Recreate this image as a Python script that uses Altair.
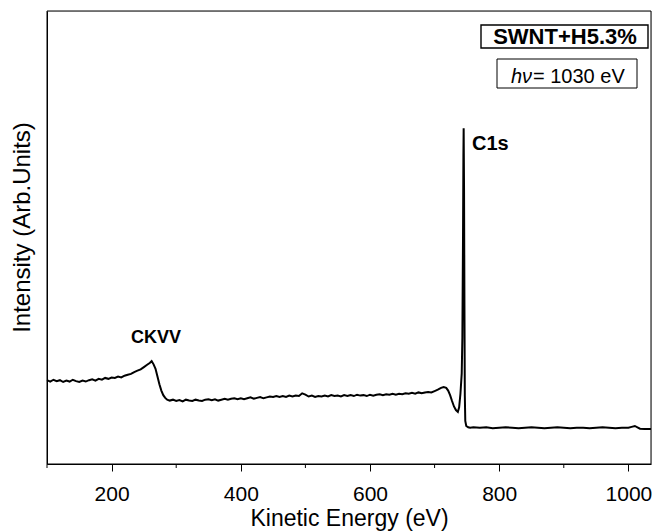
import altair as alt
import pandas as pd

# Kinetic energy (eV) and intensity (arb. units)
energy = [
    100, 105, 110, 115, 120, 125, 130, 135, 140, 145, 150, 155, 160, 165, 170, 175,
    180, 185, 190, 195, 200, 205, 210, 215, 220, 225, 230, 235, 240, 245, 250, 255,
    259, 262, 265, 268, 271, 274, 277, 280, 283, 286, 290,
    295, 300, 305, 310, 315, 320, 325, 330, 335, 340, 345, 350, 355, 360, 365, 370,
    375, 380, 385, 390, 395, 400, 405, 410, 415, 420, 425, 430, 435, 440, 445, 450,
    455, 460, 465, 470, 475, 480, 485, 490, 495, 500, 505, 510, 515, 520, 525, 530,
    535, 540, 545, 550, 555, 560, 565, 570, 575, 580, 585, 590, 595, 600, 605, 610,
    615, 620, 625, 630, 635, 640, 645, 650, 655, 660, 665, 670, 675, 680, 685, 690,
    695, 700, 705, 710, 714, 718, 721, 724, 727, 730, 733, 736,
    738, 740, 742, 743, 744, 744.6, 745, 745.6, 746.2, 746.8, 747.5, 749, 752,
    755, 760, 770, 780, 790, 800, 810, 820, 830, 840, 850, 860, 870, 880, 890, 900,
    910, 920, 930, 940, 950, 960, 970, 980, 990, 1000, 1005, 1010, 1014, 1018, 1025, 1035,
]
intensity = [
    18.5, 18.2, 18.6, 18.3, 18.5, 18.1, 18.4, 18.2, 18.6, 18.3, 18.1, 18.4, 18.2, 18.5, 18.7, 18.4,
    18.8, 18.6, 19.0, 18.8, 19.1, 19.0, 19.3, 19.1, 19.5, 19.7, 19.9, 20.3, 20.6, 20.9, 21.4, 21.9,
    22.3, 22.7, 22.0, 21.0, 19.3, 17.6, 16.2, 15.2, 14.6, 14.2, 14.0,
    14.2, 13.9, 14.1, 13.8, 14.2, 14.0, 13.9, 14.2, 14.0, 13.9, 14.2, 14.3, 14.1, 14.3, 14.0, 14.2,
    14.4, 14.2, 14.4, 14.5, 14.3, 14.5, 14.3, 14.5, 14.7, 14.4, 14.6, 14.8, 14.5, 14.7, 14.9, 14.8,
    15.0, 14.8, 15.0, 14.8, 15.1, 14.9, 15.1, 15.0, 15.6, 15.3, 14.9, 15.1, 14.8, 15.0, 14.9, 15.1,
    14.9, 15.2, 15.0, 15.1, 14.9, 15.2, 15.0, 15.2, 15.0, 15.3, 15.1, 15.2, 15.0, 15.3, 15.1, 15.3,
    15.4, 15.2, 15.4, 15.3, 15.5, 15.3, 15.5, 15.4, 15.6, 15.5, 15.7, 15.5, 15.8, 15.6, 15.8, 15.9,
    15.8, 16.1, 16.4, 16.8, 17.0, 16.8, 16.2, 15.2, 13.9, 12.7, 11.9, 11.5,
    12.5, 15.5, 20.0, 28.0, 50.0, 68.0, 74.1, 60.0, 35.0, 15.0, 9.5, 8.4, 8.1,
    8.0, 8.1, 8.0, 8.1, 7.9, 8.0, 8.1, 8.0, 7.9, 8.0, 8.1, 8.0, 7.9, 8.0, 8.1, 8.0,
    7.9, 8.0, 8.0, 7.9, 8.0, 8.1, 8.0, 7.9, 8.0, 8.0, 8.2, 8.4, 8.1, 7.8, 7.7, 7.7,
]
major_ticks = [200, 400, 600, 800, 1000]
minor_ticks = [100, 300, 500, 700, 900]

FONT = "Liberation Sans"
W, H = 604, 453

spec = pd.DataFrame({"energy": energy, "intensity": intensity})
xscale = alt.Scale(domain=[100, 1035], nice=False, zero=False)
yscale = alt.Scale(domain=[0, 100], nice=False, zero=False)

x_axis = alt.Axis(title="Kinetic Energy (eV)", values=major_ticks, format="d",
                  tickSize=7, tickColor="black", domainColor="black",
                  labelFontSize=21, labelFont=FONT, labelColor="black",
                  labelPadding=12, grid=False,
                  titleFontSize=23, titleFont=FONT, titleFontWeight="normal",
                  titleColor="black", titleBaseline="alphabetic", titleY=61)

line = alt.Chart(spec).mark_line(color="black", strokeWidth=2).encode(
    x=alt.X("energy:Q", scale=xscale, axis=x_axis),
    y=alt.Y("intensity:Q", scale=yscale,
            axis=alt.Axis(title="Intensity (Arb.Units)", labels=False, ticks=False,
                          grid=False, domainColor="black",
                          titleFontSize=24, titleFont=FONT, titleFontWeight="normal",
                          titleColor="black", titleBaseline="alphabetic",
                          titleAngle=270, titleX=-18, titleY=216, titleAlign="center")),
)

minor = alt.Chart(pd.DataFrame({"energy": minor_ticks})).mark_rule(
    color="black", strokeWidth=1).encode(
    x=alt.X("energy:Q", scale=xscale, axis=x_axis),
    y=alt.value(H), y2=alt.value(H + 4),
)

frame = alt.Chart(pd.DataFrame({"t": ["frame"]})).mark_rect(
    filled=False, stroke="black", strokeWidth=1).encode(
    x=alt.value(0), x2=alt.value(W), y=alt.value(0), y2=alt.value(H))

ckvv = alt.Chart(pd.DataFrame({"t": ["CKVV"]})).mark_text(
    font=FONT, fontSize=18, fontWeight="bold", align="left", baseline="alphabetic",
    color="black").encode(x=alt.value(84), y=alt.value(332), text="t:N")

c1s = alt.Chart(pd.DataFrame({"t": ["C1s"]})).mark_text(
    font=FONT, fontSize=20, fontWeight="bold", align="left", baseline="alphabetic",
    color="black").encode(x=alt.value(425), y=alt.value(139), text="t:N")

box1 = alt.Chart(pd.DataFrame({"t": ["a"]})).mark_rect(
    fill="white", stroke="black", strokeWidth=1.4).encode(
    x=alt.value(434), x2=alt.value(601), y=alt.value(14), y2=alt.value(37))
label1 = alt.Chart(pd.DataFrame({"t": ["SWNT+H5.3%"]})).mark_text(
    font=FONT, fontSize=22, fontWeight="bold", align="center", baseline="alphabetic",
    color="black").encode(x=alt.value(518), y=alt.value(32.5), text="t:N")

box2 = alt.Chart(pd.DataFrame({"t": ["b"]})).mark_rect(
    fill="white", stroke="black", strokeWidth=1).encode(
    x=alt.value(450), x2=alt.value(590), y=alt.value(48), y2=alt.value(77))
hnu = alt.Chart(pd.DataFrame({"t": ["h\u03bd"]})).mark_text(
    font=FONT, fontSize=20, fontStyle="italic", align="right", baseline="alphabetic",
    color="black").encode(x=alt.value(485), y=alt.value(72), text="t:N")
energy_txt = alt.Chart(pd.DataFrame({"t": ["= 1030 eV"]})).mark_text(
    font=FONT, fontSize=20, align="left", baseline="alphabetic",
    color="black").encode(x=alt.value(486), y=alt.value(72), text="t:N")

chart = alt.layer(line, minor, frame, ckvv, c1s, box1, label1, box2, hnu, energy_txt).properties(
    width=W, height=H,
    autosize=alt.AutoSizeParams(type="none"),
    padding={"left": 39, "top": 3, "right": 4, "bottom": 68},
).configure_view(stroke="black", strokeWidth=1).configure(background="white")

chart.save("out.html", embed_options={"renderer": "svg", "actions": False})
